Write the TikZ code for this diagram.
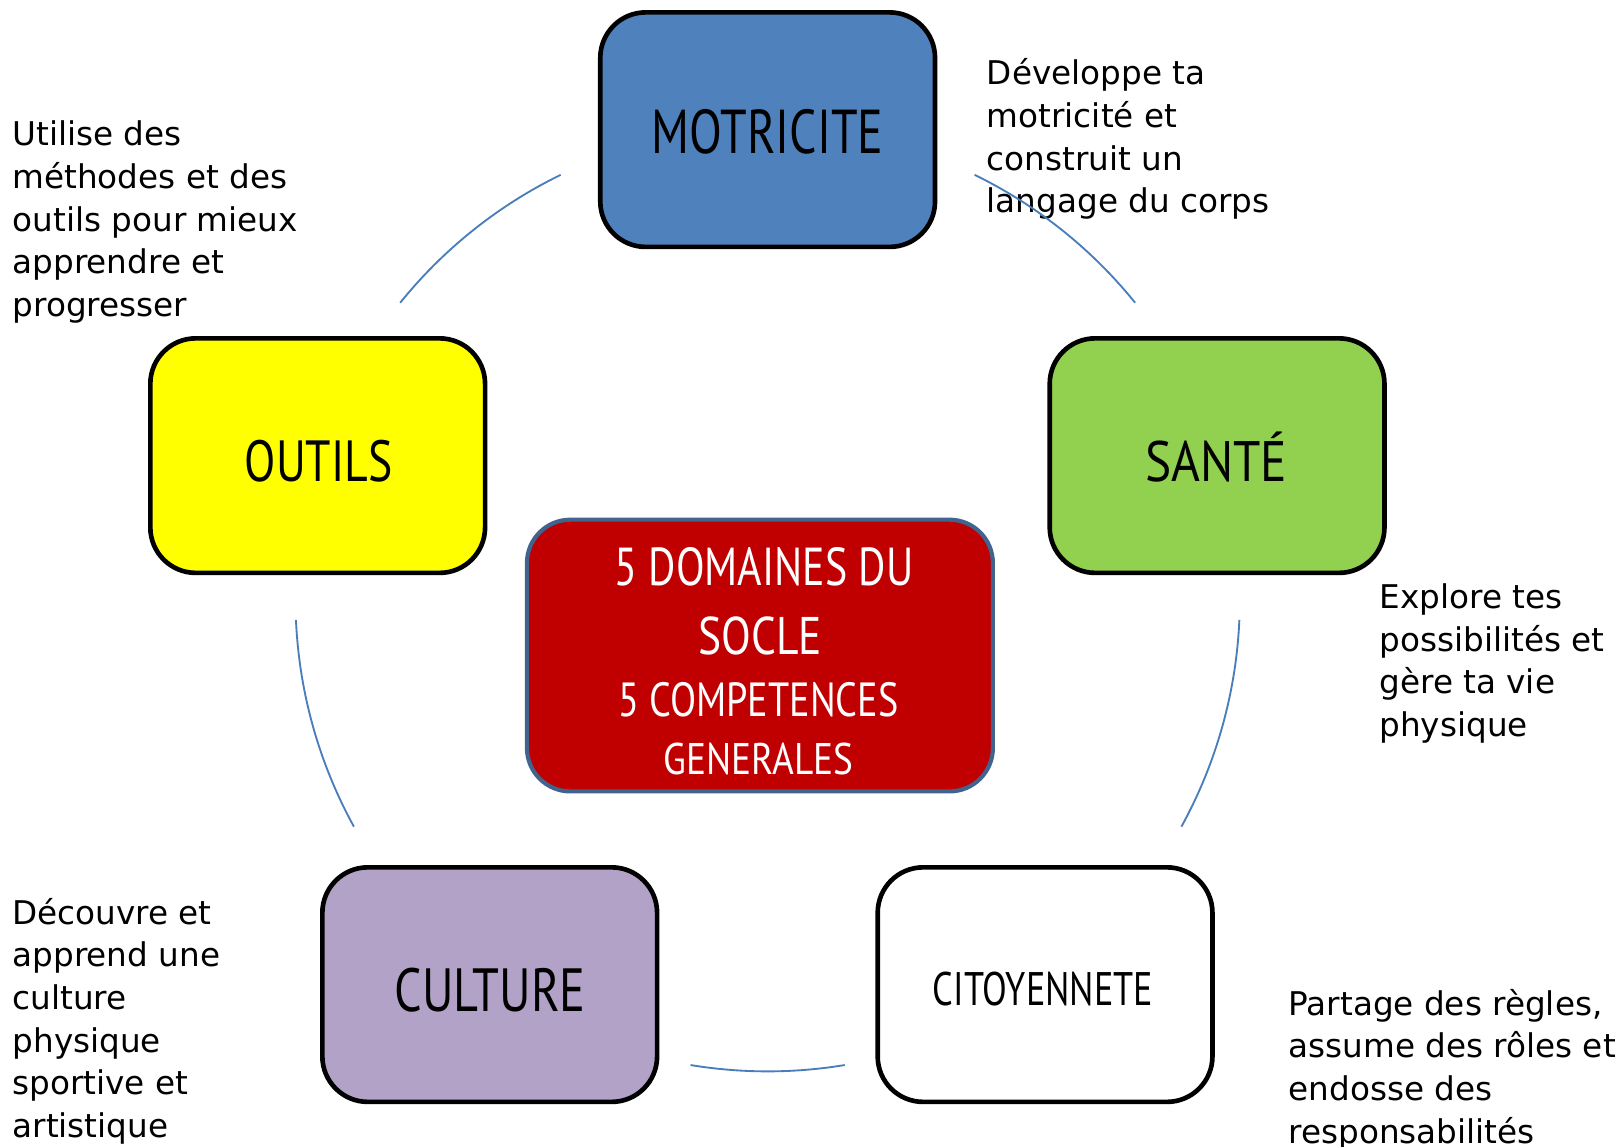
\documentclass[tikz,border=0pt]{standalone}
\usepackage{fontspec}
\usepackage{graphicx}
\setmainfont{DejaVu Sans}
\newfontfamily\handfont{PT Sans}
\usetikzlibrary{calc}
\definecolor{motblue}{HTML}{4F81BD}
\definecolor{santegreen}{HTML}{92D050}
\definecolor{outyellow}{HTML}{FFFF00}
\definecolor{culpurple}{HTML}{B2A2C7}
\definecolor{socred}{HTML}{C00000}
\definecolor{ctrborder}{HTML}{41648F}
\definecolor{arcblue}{HTML}{4A7EBB}
\tikzset{
  domainbox/.style={draw=black, line width=4.5pt, rounded corners=44pt,
    minimum width=324pt, minimum height=227pt, inner sep=0pt},
  centerbox/.style={draw=ctrborder, line width=4pt, fill=socred, rounded corners=42pt,
    minimum width=451pt, minimum height=263pt, inner sep=0pt},
  handlabel/.style={inner sep=0pt, anchor=center, text=black},
  desc/.style={inner sep=0pt, anchor=base west, text=black,
    font=\fontsize{31.6}{41.3}\selectfont},
  cyclearc/.style={draw=arcblue, line width=1.8pt},
}
\newcommand\handtext[3]{\resizebox{#1pt}{#2pt}{\handfont #3}}
\newcommand\desclines[1]{\vtop{\baselineskip=41.3pt\lineskiplimit=-60pt #1}}
\begin{document}
\begin{tikzpicture}[x=1pt,y=1pt]
\useasboundingbox (0,0) rectangle (1567,1110);
\fill[white] (0,0) rectangle (1567,1110);

% domain boxes
\node[domainbox, fill=motblue] (mot) at (743,984.5) {};
\node[domainbox, fill=santegreen] (sante) at (1178,669) {};
\node[domainbox, fill=outyellow] (outils) at (307.5,669) {};
\node[domainbox, fill=culpurple] (culture) at (474,157) {};
\node[domainbox, fill=white] (citoy) at (1011.5,157) {};
\node[centerbox] (socle) at (735.5,475.5) {};

% box labels
\node[handlabel] (motL) at (743,982) {\handtext{224}{42.7}{MOTRICITE}};
\node[handlabel] (outL) at (308.5,664) {\handtext{143}{40}{OUTILS}};
\node[handlabel] (sanL) at (1177,668) {\handtext{137.5}{48}{SANTÉ}};
\node[handlabel] (culL) at (474.5,152) {\handtext{185}{42}{CULTURE}};
\node[handlabel] (citL) at (1009.5,153.2) {\handtext{213}{32.4}{CITOYENNETE}};
\node[handlabel, text=white] (socA) at (739.5,561) {\handtext{289}{36.8}{5 DOMAINES DU}};
\node[handlabel, text=white] (socB) at (735.8,494.2) {\handtext{119.5}{36.5}{SOCLE}};
\node[handlabel, text=white] (socC) at (734,432.5) {\handtext{271}{33}{5 COMPETENCES}};
\node[handlabel, text=white] (socD) at (734,375.2) {\handtext{184}{30.5}{GENERALES}};

% descriptions
\node[desc] (dmot) at (955,1028) {\desclines{\hbox{Développe ta}\hbox{motricité et}\hbox{construit un}\hbox{langage du corps}}};
\node[desc] (dout) at (12,969) {\desclines{\hbox{Utilise des}\hbox{méthodes et des}\hbox{outils pour mieux}\hbox{apprendre et}\hbox{progresser}}};
\node[desc] (dsan) at (1335,521) {\desclines{\hbox{Explore tes}\hbox{possibilités et}\hbox{gère ta vie}\hbox{physique}}};
\node[desc] (dcit) at (1247,127.5) {\desclines{\hbox{Partage des règles,}\hbox{assume des rôles et}\hbox{endosse des}\hbox{responsabilités}}};
\node[desc] (dcul) at (12,215.5) {\desclines{\hbox{Découvre et}\hbox{apprend une}\hbox{culture}\hbox{physique}\hbox{sportive et}\hbox{artistique}}};

% cycle arcs
\coordinate (ctr) at (743,530);
\draw[cyclearc] ($(ctr)+(116:457)$) arc[start angle=116, end angle=141.1, radius=457];
\draw[cyclearc] ($(ctr)+(64:457)$) arc[start angle=64, end angle=38.9, radius=457];
\draw[cyclearc] ($(ctr)+(182.5:457)$) arc[start angle=182.5, end angle=208.8, radius=457];
\draw[cyclearc] ($(ctr)+(-2.5:457)$) arc[start angle=-2.5, end angle=-28.8, radius=457];
\draw[cyclearc] ($(ctr)+(260.6:457)$) arc[start angle=260.6, end angle=279.4, radius=457];
\end{tikzpicture}
\end{document}
